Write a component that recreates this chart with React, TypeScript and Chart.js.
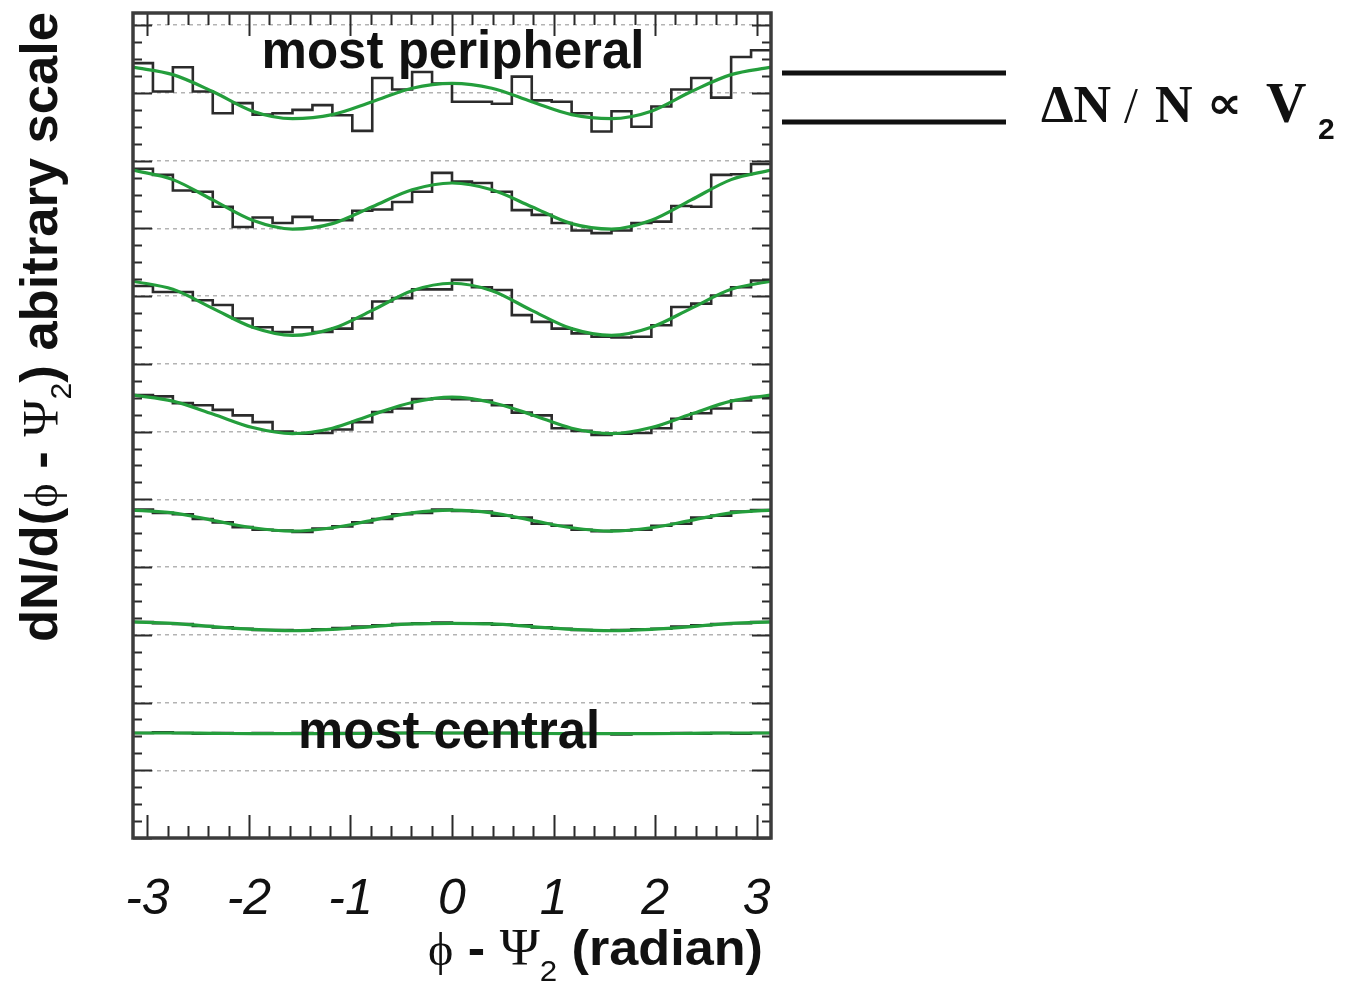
import { useEffect, useRef } from 'react';
import { Chart, registerables } from 'chart.js';

Chart.register(...registerables);

const WIDTH = 1355;
const HEIGHT = 982;

// Fitted curves are sampled at multiples of pi/8 between -pi and pi
const FIT_STEPS = [-8, -7, -6, -5, -4, -3, -2, -1, 0, 1, 2, 3, 4, 5, 6, 7, 8];
const PHI_FIT = FIT_STEPS.map((k) => (k * Math.PI) / 8);

// 32 equal histogram bins over [-pi, pi]
const N_BINS = 32;
const BIN_EDGES = Array.from({ length: N_BINS + 1 }, (_, i) => -Math.PI + (i * 2 * Math.PI) / N_BINS);

const X_TICKS = [-3, -2, -1, 0, 1, 2, 3];
const Y_GRID = [0, 1, 2, 3, 4, 5, 6, 7, 8, 9, 10, 11, 12];
const Y_MAX = 12.18;

// Fit curves, one per centrality class (most peripheral first)
const FIT_C1 = [11.38, 11.27, 11.02, 10.73, 10.62, 10.68, 10.87, 11.07, 11.14, 11.07, 10.87, 10.68, 10.62, 10.73, 11.02, 11.27, 11.38];
const FIT_C2 = [9.86, 9.72, 9.42, 9.12, 8.99, 9.07, 9.32, 9.57, 9.67, 9.57, 9.32, 9.07, 8.99, 9.12, 9.42, 9.72, 9.86];
const FIT_C3 = [8.22, 8.1, 7.82, 7.54, 7.42, 7.52, 7.79, 8.08, 8.19, 8.08, 7.79, 7.52, 7.42, 7.54, 7.82, 8.1, 8.22];
const FIT_C4 = [6.54, 6.45, 6.26, 6.06, 5.97, 6.05, 6.25, 6.43, 6.51, 6.43, 6.25, 6.05, 5.97, 6.06, 6.26, 6.45, 6.54];
const FIT_C5 = [4.84, 4.8, 4.69, 4.58, 4.53, 4.58, 4.69, 4.8, 4.84, 4.8, 4.69, 4.58, 4.53, 4.58, 4.69, 4.8, 4.84];
const FIT_C6 = [3.19, 3.17, 3.12, 3.08, 3.06, 3.08, 3.12, 3.16, 3.17, 3.16, 3.12, 3.08, 3.06, 3.08, 3.12, 3.17, 3.19];
const FIT_C7 = [1.55, 1.55, 1.545, 1.54, 1.54, 1.54, 1.545, 1.55, 1.55, 1.55, 1.545, 1.54, 1.54, 1.54, 1.545, 1.55, 1.55];

// Binned event-plane distributions, one per centrality class
const HIST_C1 = [11.44, 11.02, 11.38, 11.02, 10.7, 10.85, 10.68, 10.7, 10.75, 10.82, 10.67, 10.44, 11.22, 11.05, 11.31, 11.14, 10.87, 10.87, 10.84, 11.24, 10.89, 10.87, 10.7, 10.43, 10.73, 10.5, 10.8, 11.05, 11.22, 10.93, 11.53, 11.63];
const HIST_C2 = [9.88, 9.79, 9.56, 9.54, 9.32, 9.02, 9.16, 9.08, 9.17, 9.12, 9.12, 9.26, 9.28, 9.39, 9.54, 9.82, 9.69, 9.67, 9.54, 9.27, 9.2, 9.08, 8.97, 8.93, 8.97, 9.08, 9.1, 9.33, 9.32, 9.79, 9.8, 9.95];
const HIST_C3 = [8.15, 8.06, 8.06, 7.94, 7.87, 7.67, 7.54, 7.47, 7.54, 7.47, 7.52, 7.67, 7.92, 7.97, 8.1, 8.1, 8.24, 8.13, 8.09, 7.72, 7.62, 7.52, 7.45, 7.4, 7.39, 7.4, 7.57, 7.84, 7.89, 8.01, 8.13, 8.23];
const HIST_C4 = [6.54, 6.52, 6.42, 6.39, 6.32, 6.24, 6.14, 6.0, 5.97, 5.98, 6.03, 6.14, 6.29, 6.34, 6.48, 6.49, 6.48, 6.46, 6.39, 6.28, 6.24, 6.05, 6.01, 5.95, 5.97, 5.98, 6.05, 6.19, 6.27, 6.34, 6.46, 6.51];
const HIST_C5 = [4.85, 4.8, 4.78, 4.71, 4.66, 4.59, 4.55, 4.54, 4.52, 4.57, 4.6, 4.66, 4.71, 4.78, 4.8, 4.85, 4.83, 4.82, 4.76, 4.73, 4.64, 4.61, 4.55, 4.53, 4.54, 4.55, 4.61, 4.64, 4.73, 4.76, 4.82, 4.84];
const HIST_C6 = [3.19, 3.17, 3.16, 3.13, 3.11, 3.09, 3.07, 3.07, 3.06, 3.08, 3.1, 3.12, 3.14, 3.16, 3.17, 3.18, 3.17, 3.17, 3.15, 3.14, 3.11, 3.09, 3.07, 3.06, 3.07, 3.08, 3.09, 3.12, 3.14, 3.16, 3.17, 3.19];
const HIST_C7 = [1.55, 1.56, 1.55, 1.54, 1.55, 1.54, 1.55, 1.54, 1.55, 1.54, 1.55, 1.55, 1.54, 1.55, 1.56, 1.55, 1.55, 1.54, 1.55, 1.55, 1.54, 1.54, 1.55, 1.54, 1.53, 1.54, 1.54, 1.55, 1.54, 1.55, 1.54, 1.55];

const FITS = [FIT_C1, FIT_C2, FIT_C3, FIT_C4, FIT_C5, FIT_C6, FIT_C7];
const HISTS = [HIST_C1, HIST_C2, HIST_C3, HIST_C4, HIST_C5, HIST_C6, HIST_C7];

const SANS = '"Liberation Sans", Arial, Helvetica, sans-serif';
const SERIF = '"Liberation Serif", "DejaVu Serif", "Times New Roman", serif';

type Seg = { text: string; font: string; dy?: number };

// Draws a run of differently styled text pieces, squeezed or stretched to a given total length
function drawRun(ctx: CanvasRenderingContext2D, segs: Seg[], x: number, y: number, length: number, angle = 0) {
  let total = 0;
  const widths = segs.map((s) => {
    ctx.font = s.font;
    const w = ctx.measureText(s.text).width;
    total += w;
    return w;
  });
  const k = length / total;
  ctx.save();
  ctx.translate(x, y);
  ctx.rotate(angle);
  ctx.scale(k, 1);
  ctx.textAlign = 'left';
  ctx.textBaseline = 'alphabetic';
  let cx = 0;
  segs.forEach((s, i) => {
    ctx.font = s.font;
    ctx.fillText(s.text, cx, s.dy || 0);
    cx += widths[i];
  });
  ctx.restore();
}

function drawCentered(ctx: CanvasRenderingContext2D, text: string, font: string, cx: number, y: number, length: number) {
  drawRun(ctx, [{ text, font }], cx - length / 2, y, length);
}

const decorations = {
  id: 'decorations',
  afterDatasetsDraw(chart: any) {
    const { ctx, chartArea: a } = chart;
    const xs = chart.scales.x;
    const ys = chart.scales.y;
    ctx.save();

    // inward tick marks on all four sides
    ctx.strokeStyle = '#2a2a2a';
    ctx.lineWidth = 2;
    ctx.beginPath();
    for (let i = -15; i <= 15; i++) {
      const px = Math.round(xs.getPixelForValue(i / 5)) + 0.5;
      const len = i % 5 === 0 ? 23 : 12;
      ctx.moveTo(px, a.bottom);
      ctx.lineTo(px, a.bottom - len);
      ctx.moveTo(px, a.top);
      ctx.lineTo(px, a.top + len);
    }
    for (let i = 0; i <= 48; i++) {
      const py = Math.round(ys.getPixelForValue(i / 4)) + 0.5;
      const len = i % 4 === 0 ? 19 : 9;
      ctx.moveTo(a.left, py);
      ctx.lineTo(a.left + len, py);
      ctx.moveTo(a.right, py);
      ctx.lineTo(a.right - len, py);
    }
    ctx.stroke();

    // frame
    ctx.lineWidth = 3.5;
    ctx.strokeStyle = '#3c3c3c';
    ctx.strokeRect(a.left, a.top, a.right - a.left, a.bottom - a.top);

    ctx.fillStyle = '#111';
    // class labels inside the frame
    drawCentered(ctx, 'most peripheral', `bold 54px ${SANS}`, 453, 68, 383);
    drawCentered(ctx, 'most central', `bold 54px ${SANS}`, 449, 748, 302);

    // x-axis title
    drawRun(
      ctx,
      [
        { text: '\u03D5', font: `46px ${SERIF}` },
        { text: ' - ', font: `bold 50px ${SANS}` },
        { text: '\u03A8', font: `52px ${SERIF}` },
        { text: '2', font: `30px ${SANS}`, dy: 16 },
        { text: ' (radian)', font: `bold 50px ${SANS}` },
      ],
      428,
      965,
      335
    );

    // y-axis title, reading upward
    drawRun(
      ctx,
      [
        { text: 'dN/d(', font: `bold 52px ${SANS}` },
        { text: '\u03D5', font: `46px ${SERIF}` },
        { text: ' - ', font: `bold 52px ${SANS}` },
        { text: '\u03A8', font: `50px ${SERIF}` },
        { text: '2', font: `30px ${SANS}`, dy: 14 },
        { text: ') abitrary scale', font: `bold 52px ${SANS}` },
      ],
      57,
      642,
      630,
      -Math.PI / 2
    );

    // bracket lines and the relation beside them
    ctx.strokeStyle = '#111';
    ctx.lineWidth = 5;
    ctx.beginPath();
    ctx.moveTo(782, 73);
    ctx.lineTo(1006, 73);
    ctx.moveTo(782, 122);
    ctx.lineTo(1006, 122);
    ctx.stroke();

    ctx.textAlign = 'left';
    ctx.textBaseline = 'alphabetic';
    ctx.font = `bold 52px ${SERIF}`;
    ctx.fillText('\u0394N', 1041, 122);
    ctx.font = `50px ${SERIF}`;
    ctx.fillText('/', 1124, 122);
    ctx.font = `bold 52px ${SERIF}`;
    ctx.fillText('N', 1155, 122);
    drawRun(ctx, [{ text: '\u221D', font: `bold 44px "DejaVu Sans", ${SANS}` }], 1207, 118, 35);
    ctx.font = `bold 56px ${SERIF}`;
    ctx.fillText('V', 1266, 122);
    ctx.font = `bold 30px ${SANS}`;
    ctx.fillText('2', 1318, 139);

    ctx.restore();
  },
};

export default function App() {
  const canvasRef = useRef<HTMLCanvasElement | null>(null);

  useEffect(() => {
    const canvas = canvasRef.current;
    if (!canvas) return;

    const fitSets = FITS.map((vals, i) => ({
      label: `fit ${i + 1}`,
      data: PHI_FIT.map((x, j) => ({ x, y: vals[j] })),
      borderColor: 'rgb(36,158,60)',
      borderWidth: 3.2,
      pointRadius: 0,
      cubicInterpolationMode: 'monotone' as const,
      fill: false,
      order: 0,
    }));

    const histSets = HISTS.map((vals, i) => ({
      label: `class ${i + 1}`,
      data: BIN_EDGES.map((x, j) => ({ x, y: vals[Math.min(j, N_BINS - 1)] })),
      borderColor: '#2b2b2b',
      borderWidth: 2.6,
      pointRadius: 0,
      stepped: 'before' as const,
      fill: false,
      order: 1,
    }));

    const chart = new Chart(canvas, {
      type: 'line',
      data: { datasets: [...fitSets, ...histSets] },
      options: {
        animation: false,
        responsive: false,
        devicePixelRatio: 1,
        events: [],
        layout: { padding: { left: 0, top: 13, right: WIDTH - 771, bottom: 0 } },
        plugins: { legend: { display: false }, tooltip: { enabled: false } },
        scales: {
          x: {
            type: 'linear',
            min: -Math.PI,
            max: Math.PI,
            afterBuildTicks: (scale: any) => {
              scale.ticks = X_TICKS.map((value) => ({ value }));
            },
            afterFit: (scale: any) => {
              scale.height = HEIGHT - 838;
            },
            grid: { display: false, drawTicks: false },
            border: { display: false },
            ticks: {
              padding: 32,
              color: '#111',
              font: { family: SANS, size: 50, style: 'italic' },
              callback: (v: any) => String(v),
              maxRotation: 0,
              autoSkip: false,
            },
          },
          y: {
            type: 'linear',
            min: 0,
            max: Y_MAX,
            afterBuildTicks: (scale: any) => {
              scale.ticks = Y_GRID.map((value) => ({ value }));
            },
            afterFit: (scale: any) => {
              scale.width = 133;
            },
            grid: { color: 'rgba(160,160,160,0.8)', lineWidth: 1.5, drawTicks: false },
            border: { display: false, dash: [4, 4] },
            ticks: { display: false },
          },
        },
      },
      plugins: [decorations],
    });

    return () => chart.destroy();
  }, []);

  return (
    <div style={{ position: 'absolute', left: 0, top: 0, width: WIDTH, height: HEIGHT, background: '#fff' }}>
      <canvas ref={canvasRef} width={WIDTH} height={HEIGHT} style={{ width: WIDTH, height: HEIGHT, display: 'block' }} />
    </div>
  );
}
